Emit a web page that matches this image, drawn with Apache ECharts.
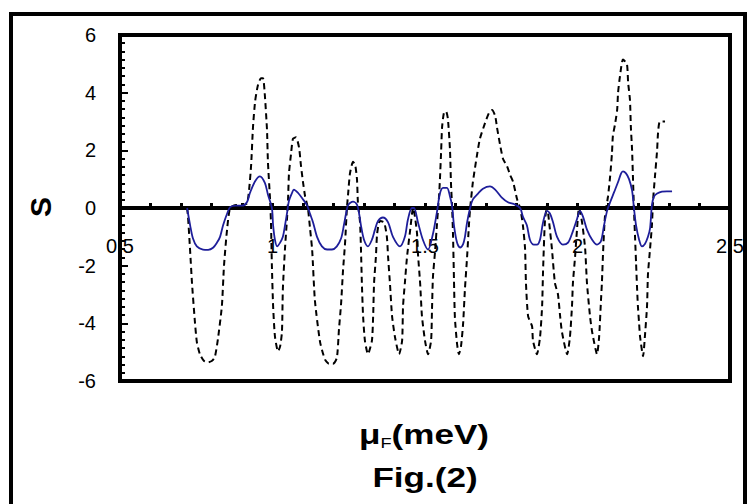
<!DOCTYPE html>
<html>
<head>
<meta charset="utf-8">
<script src="https://cdn.jsdelivr.net/npm/echarts@6/dist/echarts.min.js"></script>
<style>
  html, body { margin: 0; padding: 0; background: #fff; }
  #chart { width: 749px; height: 504px; }
</style>
</head>
<body>
<div id="chart"></div>
<script>
// Thermopower S versus Fermi energy: dashed (large) and solid blue (small) curves
const xTickLabels = [0.5, 1, 1.5, 2, 2.5];
const yTickLabels = [-6, -4, -2, 0, 2, 4, 6];

const dashX = [0.720,0.723,0.730,0.736,0.746,0.752,0.762,0.775,0.789,0.802,0.811,0.821,0.834,0.841,0.851,0.861,0.880,0.900,0.916,0.923,0.930,0.936,0.943,0.952,0.962,0.969,0.975,0.982,0.985,0.992,0.995,0.998,1.002,1.008,1.018,1.025,1.031,1.034,1.041,1.048,1.051,1.054,1.061,1.067,1.077,1.087,1.093,1.100,1.107,1.116,1.123,1.130,1.139,1.156,1.172,1.185,1.198,1.211,1.218,1.225,1.231,1.238,1.244,1.248,1.254,1.264,1.271,1.277,1.280,1.287,1.290,1.293,1.297,1.303,1.313,1.326,1.330,1.333,1.339,1.343,1.352,1.366,1.375,1.379,1.385,1.392,1.402,1.415,1.425,1.428,1.434,1.441,1.451,1.461,1.467,1.474,1.477,1.484,1.490,1.500,1.510,1.520,1.523,1.526,1.533,1.539,1.543,1.546,1.549,1.553,1.556,1.562,1.569,1.575,1.582,1.585,1.589,1.592,1.595,1.598,1.605,1.611,1.618,1.625,1.631,1.638,1.644,1.648,1.651,1.657,1.670,1.680,1.697,1.710,1.720,1.730,1.736,1.746,1.756,1.769,1.779,1.789,1.802,1.812,1.821,1.828,1.831,1.838,1.851,1.854,1.867,1.877,1.884,1.887,1.893,1.900,1.907,1.916,1.926,1.936,1.943,1.949,1.966,1.975,1.982,1.985,1.992,1.998,2.005,2.015,2.025,2.031,2.041,2.048,2.064,2.071,2.077,2.080,2.084,2.090,2.100,2.107,2.113,2.116,2.123,2.130,2.133,2.139,2.149,2.162,2.166,2.172,2.175,2.179,2.182,2.185,2.189,2.192,2.195,2.198,2.202,2.205,2.215,2.221,2.228,2.231,2.238,2.244,2.248,2.254,2.261,2.264,2.270,2.287];
const dashY = [0,-0.3,-1.5,-2.6,-4.0,-4.65,-5.07,-5.3,-5.35,-5.3,-5.17,-4.55,-3.4,-2.0,-0.75,0,0.1,0.1,0.15,0.6,1.5,2.8,3.7,4.25,4.5,4.5,3.9,2.7,1.6,0.3,-0.5,-2.0,-3.4,-4.45,-4.97,-4.8,-4.3,-2.8,-1.4,-0.3,0.3,1.2,1.9,2.4,2.45,2.1,1.5,0.9,0.4,0,-0.7,-1.45,-3.2,-4.65,-5.25,-5.4,-5.4,-5.2,-4.2,-3.3,-2.2,-1.2,0,0.5,1.2,1.6,1.5,1.0,0.2,-0.5,-1.4,-2.6,-3.75,-4.6,-5.07,-4.6,-3.75,-2.6,-1.7,-0.9,-0.45,-0.5,-1.0,-1.7,-2.6,-3.75,-4.5,-5.07,-4.6,-3.4,-2.6,-1.7,-0.8,0,-0.3,-0.9,-1.6,-2.6,-3.75,-4.6,-5.07,-4.6,-3.5,-2.4,-1.5,-0.6,0,0.4,1.0,2.0,2.8,3.3,3.35,3.1,2.0,0.9,0,-1.0,-2.5,-3.8,-4.7,-5.07,-4.8,-4.0,-2.8,-1.7,-0.6,0,0.3,0.9,1.8,2.4,2.95,3.3,3.4,3.2,2.8,2.2,1.7,1.45,1.15,0.9,0.3,0,-0.6,-1.4,-2.6,-3.75,-4.1,-4.6,-5.07,-4.5,-3.4,-2.2,-0.5,0.1,-0.5,-1.4,-2.6,-3.0,-3.75,-4.3,-5.07,-4.5,-3.4,-2.6,-1.7,-0.8,0,-0.5,-1.4,-2.6,-3.75,-4.3,-5.07,-4.45,-3.2,-2.6,-1.5,-0.3,0.4,1.1,1.9,2.5,2.9,3.4,4.0,4.55,5.15,5.0,4.35,3.75,2.8,2.0,1.0,0,-1.1,-1.9,-2.7,-3.4,-4.0,-4.45,-5.14,-4.45,-3.4,-2.3,-1.4,-0.6,0.3,1.1,2.0,2.6,3.0,3.0];

const solidX = [0.720,0.730,0.739,0.752,0.772,0.789,0.805,0.818,0.828,0.838,0.851,0.861,0.880,0.900,0.916,0.926,0.943,0.959,0.975,0.985,0.998,1.002,1.008,1.015,1.025,1.034,1.041,1.048,1.054,1.064,1.070,1.084,1.100,1.113,1.123,1.133,1.146,1.162,1.179,1.195,1.211,1.225,1.234,1.241,1.248,1.264,1.277,1.284,1.290,1.300,1.313,1.326,1.336,1.346,1.362,1.379,1.395,1.418,1.434,1.444,1.457,1.464,1.477,1.493,1.510,1.526,1.539,1.549,1.559,1.572,1.582,1.589,1.595,1.605,1.615,1.625,1.631,1.638,1.648,1.657,1.674,1.690,1.713,1.730,1.752,1.772,1.795,1.812,1.821,1.834,1.844,1.857,1.867,1.877,1.887,1.900,1.910,1.920,1.933,1.952,1.969,1.985,1.998,2.008,2.018,2.031,2.048,2.064,2.077,2.087,2.097,2.107,2.120,2.133,2.143,2.149,2.159,2.169,2.179,2.185,2.192,2.202,2.211,2.221,2.231,2.238,2.244,2.251,2.261,2.277,2.293,2.310];
const solidY = [0,-0.6,-1.05,-1.33,-1.44,-1.45,-1.38,-1.2,-1.0,-0.6,-0.2,0.03,0.08,0.08,0.2,0.52,0.93,1.1,0.87,0.47,0,-0.6,-1.1,-1.33,-1.2,-1.0,-0.6,-0.15,0.25,0.52,0.64,0.52,0.3,0.1,-0.2,-0.5,-1.0,-1.33,-1.44,-1.44,-1.33,-1.05,-0.6,-0.2,0.1,0.22,0.12,-0.2,-0.6,-1.1,-1.33,-1.1,-0.75,-0.45,-0.33,-0.5,-1.0,-1.33,-1.0,-0.4,0,0,-0.5,-1.1,-1.44,-0.9,-0.15,0.5,0.7,0.7,0.4,0.05,-0.6,-1.2,-1.37,-1.25,-1.0,-0.5,0,0.3,0.5,0.67,0.75,0.64,0.36,0.2,0.12,0,-0.3,-0.6,-1.1,-1.27,-1.27,-1.1,-0.5,-0.1,-0.2,-0.5,-1.0,-1.27,-1.2,-0.8,-0.4,-0.1,-0.3,-0.75,-1.1,-1.27,-1.15,-0.6,-0.1,0.2,0.55,0.9,1.2,1.27,1.2,1.0,0.6,0,-0.6,-1.1,-1.33,-1.25,-1.0,-0.7,0.1,0.4,0.5,0.57,0.58,0.58];

const FONT = '"Liberation Sans", Arial, sans-serif';
const pair = (xs, ys) => xs.map((x, i) => [x, ys[i]]);

// plot box geometry (pixels)
const GRID = { left: 120, right: 19, top: 35, bottom: 123 };
const plotHeight = 504 - GRID.top - GRID.bottom;

const chart = echarts.init(document.getElementById('chart'), null, { renderer: 'svg' });

chart.setOption({
  animation: false,
  backgroundColor: '#fff',
  grid: Object.assign({
    show: true, borderColor: '#000', borderWidth: 4, backgroundColor: 'transparent'
  }, GRID),
  xAxis: {
    type: 'value',
    min: xTickLabels[0], max: xTickLabels[xTickLabels.length - 1], interval: 0.5,
    // the axis runs through S = 0, in the middle of the box
    offset: -plotHeight / 2,
    axisLine: { show: true, onZero: false, lineStyle: { color: '#000', width: 4 } },
    axisTick: { show: true, inside: true, length: 5, lineStyle: { color: '#000', width: 3 } },
    minorTick: { show: true, splitNumber: 5, length: 5, lineStyle: { color: '#000', width: 3 } },
    splitLine: { show: false },
    axisLabel: {
      margin: 28, color: '#000', fontFamily: FONT, fontSize: 20,
      formatter: v => String(v)
    }
  },
  yAxis: {
    type: 'value',
    min: yTickLabels[0], max: yTickLabels[yTickLabels.length - 1], interval: 2,
    axisLine: { show: true, onZero: false, lineStyle: { color: '#000', width: 4 } },
    axisTick: { show: true, inside: true, length: 8, lineStyle: { color: '#000', width: 2 } },
    minorTick: { show: true, splitNumber: 7, length: 5, lineStyle: { color: '#000', width: 2 } },
    splitLine: { show: false },
    axisLabel: { margin: 24, color: '#000', fontFamily: FONT, fontSize: 20 }
  },
  series: [
    {
      type: 'line',
      data: pair(dashX, dashY),
      showSymbol: false,
      smooth: 0.2,
      lineStyle: { color: '#000', width: 2, type: [6, 4] },
      z: 3
    },
    {
      type: 'line',
      data: pair(solidX, solidY),
      showSymbol: false,
      smooth: 0.3,
      lineStyle: { color: '#1e1e9a', width: 1.8 },
      z: 4
    }
  ],
  graphic: [
    {
      type: 'rect', z: -1, silent: true,
      shape: { x: 11, y: 14, width: 734, height: 600 },
      style: { fill: 'none', stroke: '#000', lineWidth: 4 }
    },
    {
      type: 'text', x: 40, y: 207, rotation: Math.PI / 2,
      style: {
        text: 'S', font: 'bold 30px ' + FONT, fill: '#000',
        textAlign: 'center', textVerticalAlign: 'middle'
      }
    },
    {
      type: 'text', x: 424, y: 435, scaleX: 1.3,
      style: {
        text: '{a|μ}{b|F}{a|(meV)}',
        textAlign: 'center', textVerticalAlign: 'middle',
        rich: {
          a: { fontFamily: FONT, fontWeight: 'bold', fontSize: 27, fill: '#000', lineHeight: 30 },
          b: { fontFamily: FONT, fontWeight: 'normal', fontSize: 14, fill: '#000', lineHeight: 30, verticalAlign: 'bottom', padding: [10, 0, 0, 0] }
        }
      }
    },
    {
      type: 'text', x: 425, y: 478, scaleX: 1.3,
      style: {
        text: 'Fig.(2)', font: 'bold 27px ' + FONT, fill: '#000',
        textAlign: 'center', textVerticalAlign: 'middle'
      }
    }
  ]
});
</script>
</body>
</html>
